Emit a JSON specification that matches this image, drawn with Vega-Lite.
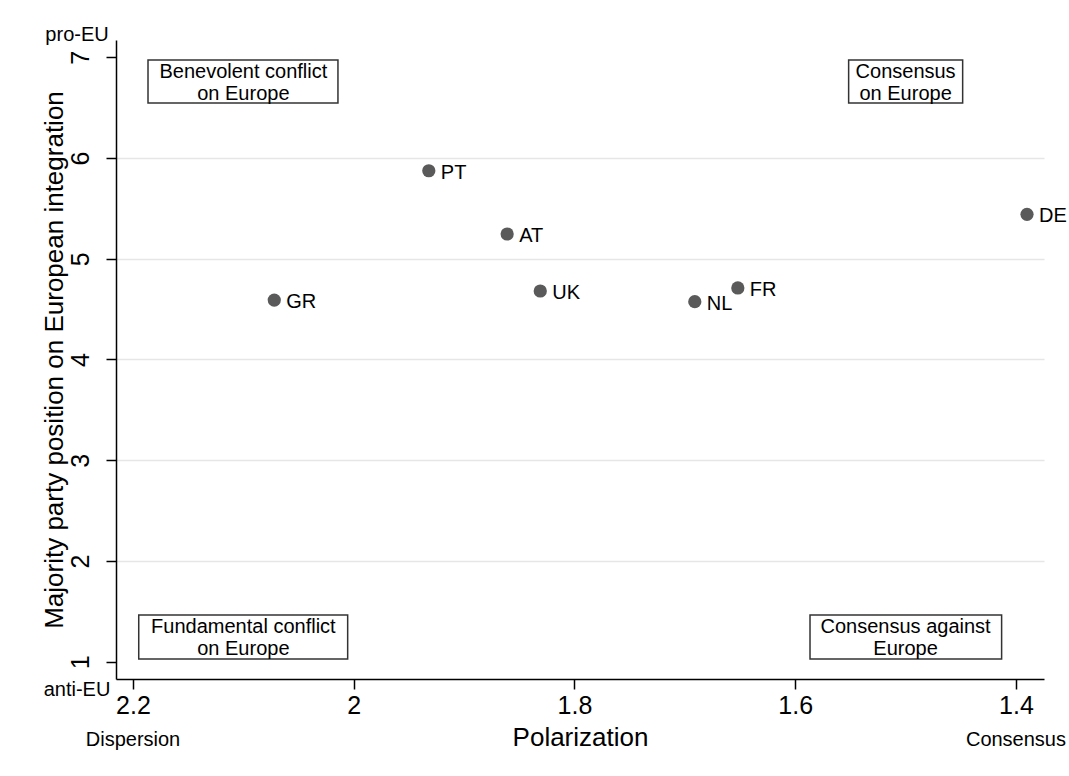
{
  "$schema": "https://vega.github.io/schema/vega-lite/v6.json",
  "width": 928,
  "height": 639,
  "autosize": {"type": "none"},
  "padding": {"left": 116, "top": 40, "right": 25, "bottom": 97},
  "background": "white",
  "config": {"view": {"stroke": null}, "font": "Liberation Sans"},
  "datasets": {
    "countries": [
      {"country": "PT", "x": 1.932, "y": 5.874},
      {"country": "AT", "x": 1.861, "y": 5.246},
      {"country": "GR", "x": 2.072, "y": 4.59},
      {"country": "UK", "x": 1.831, "y": 4.68},
      {"country": "NL", "x": 1.691, "y": 4.574},
      {"country": "FR", "x": 1.652, "y": 4.71},
      {"country": "DE", "x": 1.39, "y": 5.441}
    ],
    "boxes": [
      {"x": 2.1864, "xe": 2.0143, "y": 6.973, "ye": 6.546},
      {"x": 1.5516, "xe": 1.4483, "y": 6.973, "ye": 6.546},
      {"x": 2.1948, "xe": 2.0055, "y": 1.463, "ye": 1.027},
      {"x": 1.5866, "xe": 1.413, "y": 1.463, "ye": 1.027}
    ],
    "boxtext": [
      {"label": "Benevolent conflict\non Europe", "x": 2.1, "y": 6.755},
      {"label": "Consensus\non Europe", "x": 1.5, "y": 6.755},
      {"label": "Fundamental conflict\non Europe", "x": 2.1, "y": 1.245},
      {"label": "Consensus against\nEurope", "x": 1.5, "y": 1.245}
    ],
    "notes": [
      {"label": "pro-EU", "x": 2.2507, "y": 7.221},
      {"label": "anti-EU", "x": 2.2507, "y": 0.719},
      {"label": "Dispersion", "x": 2.2, "y": 0.2227},
      {"label": "Consensus", "x": 1.4, "y": 0.2227}
    ]
  },
  "encoding": {
    "x": {
      "field": "x",
      "type": "quantitative",
      "scale": {"domain": [1.3746, 2.2154], "reverse": true, "nice": false, "zero": false},
      "axis": {
        "title": "Polarization",
        "values": [2.2, 2, 1.8, 1.6, 1.4],
        "format": "~g",
        "grid": false,
        "domainColor": "#000",
        "domainWidth": 1.5,
        "tickColor": "#000",
        "tickWidth": 1.5,
        "tickSize": 10,
        "labelFontSize": 25,
        "labelColor": "#000",
        "labelPadding": 4,
        "labelFlush": false,
        "titleFontSize": 26,
        "titleFontWeight": "normal",
        "titleColor": "#000",
        "titlePadding": 6
      }
    },
    "y": {
      "field": "y",
      "type": "quantitative",
      "scale": {"domain": [0.828, 7.172], "nice": false, "zero": false},
      "axis": {
        "title": "Majority party position on European integration",
        "values": [1, 2, 3, 4, 5, 6, 7],
        "format": "~g",
        "grid": true,
        "gridColor": "#e6e6e6",
        "gridWidth": 1.5,
        "gridOpacity": {"condition": {"test": "datum.value == 1 || datum.value == 7", "value": 0}, "value": 1},
        "domainColor": "#000",
        "domainWidth": 1.5,
        "tickColor": "#000",
        "tickWidth": 1.5,
        "tickSize": 10,
        "labelFontSize": 25,
        "labelColor": "#000",
        "labelAngle": 270,
        "labelAlign": "center",
        "labelBaseline": "bottom",
        "labelPadding": 13,
        "labelFlush": false,
        "titleFontSize": 26,
        "titleFontWeight": "normal",
        "titleColor": "#000",
        "titlePadding": 1
      }
    }
  },
  "layer": [
    {
      "data": {"name": "boxes"},
      "mark": {"type": "rect", "fill": "white", "stroke": "#333333", "strokeWidth": 1.5},
      "encoding": {"x2": {"field": "xe"}, "y2": {"field": "ye"}}
    },
    {
      "data": {"name": "boxtext"},
      "mark": {"type": "text", "fontSize": 20, "lineBreak": "\n", "lineHeight": 22, "align": "center", "baseline": "middle", "dy": -10, "color": "#000"},
      "encoding": {"text": {"field": "label"}}
    },
    {
      "data": {"name": "countries"},
      "mark": {"type": "circle", "size": 175, "color": "#5a5a5a", "opacity": 1},
      "encoding": {}
    },
    {
      "data": {"name": "countries"},
      "mark": {"type": "text", "fontSize": 20, "align": "left", "baseline": "middle", "dx": 12, "dy": 2, "color": "#000"},
      "encoding": {"text": {"field": "country"}}
    },
    {
      "data": {"name": "notes"},
      "mark": {"type": "text", "fontSize": 20, "align": "center", "baseline": "middle", "color": "#000", "clip": false},
      "encoding": {"text": {"field": "label"}}
    }
  ]
}
